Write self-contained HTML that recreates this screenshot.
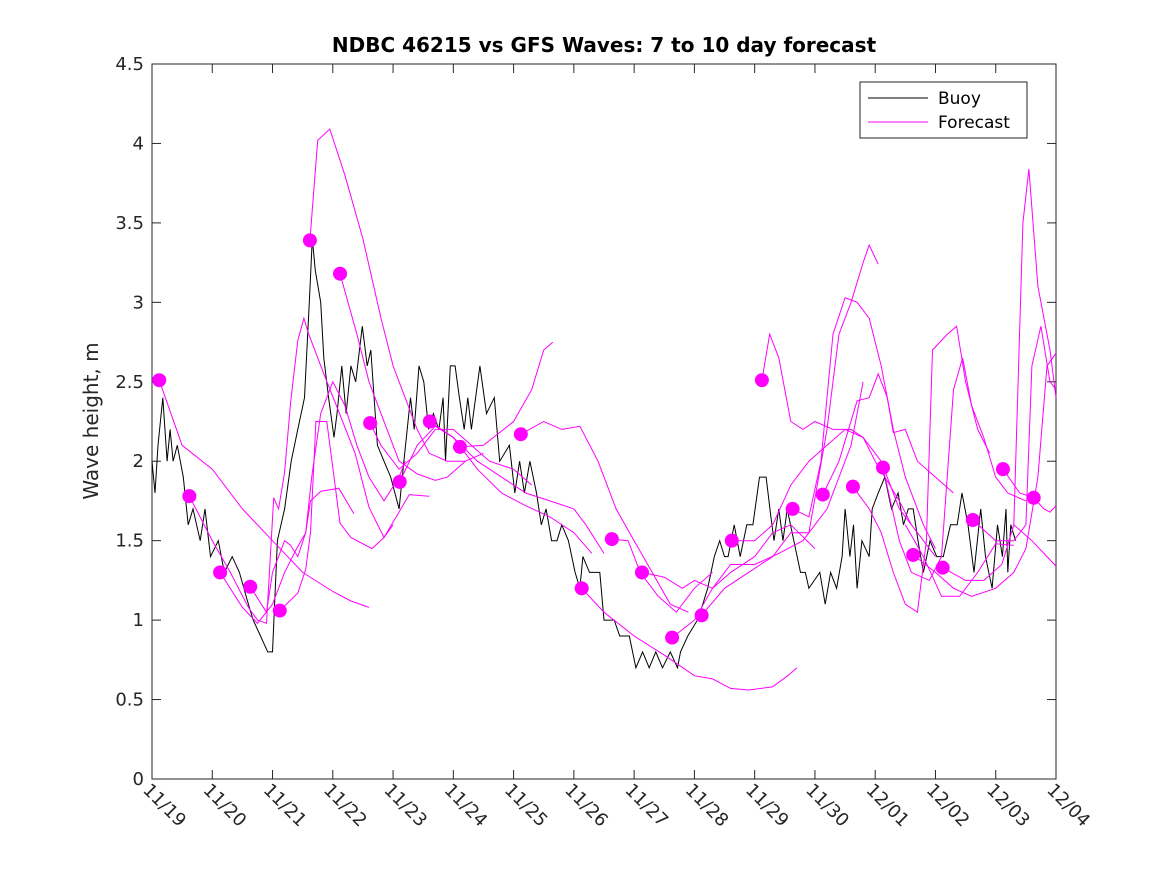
<!DOCTYPE html>
<html><head><meta charset="utf-8"><style>
body{margin:0;background:#fff}
svg{display:block;font-family:"DejaVu Sans","Liberation Sans",sans-serif}
</style></head><body>
<svg id="chart" width="1167" height="875" viewBox="0 0 1167 875">
<rect x="0" y="0" width="1167" height="875" fill="#fff"/>
<text x="604" y="52" text-anchor="middle" font-size="20" font-weight="bold" fill="#000">NDBC 46215 vs GFS Waves: 7 to 10 day forecast</text>
<text transform="translate(98,421) rotate(-90)" text-anchor="middle" font-size="20" fill="#262626">Wave height, m</text>
<g id="axes"></g>
<g id="series"></g>
<g>
<rect x="860" y="82" width="167" height="56" fill="#fff" stroke="#262626" stroke-width="1"/>
<line x1="868" y1="98" x2="928" y2="98" stroke="#000" stroke-width="1"/>
<text x="938" y="104" font-size="17" fill="#000">Buoy</text>
<line x1="868" y1="122" x2="928" y2="122" stroke="#f0f" stroke-width="1"/>
<text x="938" y="128" font-size="17" fill="#000">Forecast</text>
</g>
</svg>
<script>
const xTickLabels=["11/19","11/20","11/21","11/22","11/23","11/24","11/25","11/26","11/27","11/28","11/29","11/30","12/01","12/02","12/03","12/04"];
const yTicks=[0,0.5,1,1.5,2,2.5,3,3.5,4,4.5];
const yTickLabels=["0","0.5","1","1.5","2","2.5","3","3.5","4","4.5"];
const buoyDays=[0,0.05,0.1,0.18,0.25,0.3,0.35,0.42,0.52,0.6,0.68,0.8,0.88,0.97,1.1,1.2,1.33,1.45,1.6,1.68,1.8,1.92,2.0,2.08,2.2,2.31,2.42,2.53,2.61,2.66,2.71,2.8,2.85,2.93,3.02,3.07,3.15,3.22,3.3,3.38,3.49,3.57,3.63,3.74,3.85,3.96,4.1,4.18,4.29,4.35,4.43,4.51,4.59,4.67,4.76,4.83,4.87,4.95,5.03,5.1,5.18,5.24,5.3,5.37,5.44,5.55,5.68,5.77,5.93,6.02,6.1,6.18,6.27,6.38,6.46,6.54,6.63,6.72,6.8,6.91,7.02,7.1,7.15,7.26,7.43,7.5,7.67,7.76,7.92,8.03,8.14,8.25,8.36,8.47,8.6,8.72,8.77,8.89,9.05,9.14,9.22,9.33,9.42,9.5,9.56,9.66,9.76,9.87,9.97,10.08,10.19,10.27,10.32,10.4,10.47,10.54,10.65,10.76,10.84,10.9,11.08,11.17,11.26,11.36,11.45,11.5,11.58,11.64,11.7,11.78,11.9,11.95,12.05,12.16,12.27,12.38,12.47,12.55,12.63,12.71,12.8,12.91,13.02,13.13,13.25,13.36,13.44,13.54,13.64,13.75,13.83,13.94,14.03,14.11,14.17,14.2,14.25,14.33];
const buoyValues=[2.0,1.8,2.1,2.4,2.0,2.2,2.0,2.1,1.9,1.6,1.7,1.5,1.7,1.4,1.5,1.3,1.4,1.3,1.1,1.0,0.9,0.8,0.8,1.5,1.7,2.0,2.2,2.4,3.0,3.4,3.2,3.0,2.65,2.4,2.15,2.3,2.6,2.3,2.6,2.5,2.85,2.6,2.7,2.1,2.0,1.9,1.7,2.0,2.4,2.2,2.6,2.5,2.2,2.3,2.2,2.4,2.0,2.6,2.6,2.4,2.2,2.4,2.2,2.4,2.6,2.3,2.4,2.0,2.1,1.8,2.0,1.8,2.0,1.8,1.6,1.7,1.5,1.5,1.6,1.5,1.3,1.2,1.4,1.3,1.3,1.0,1.0,0.9,0.9,0.7,0.8,0.7,0.8,0.7,0.8,0.7,0.8,0.9,1.0,1.1,1.2,1.4,1.5,1.4,1.4,1.6,1.4,1.6,1.6,1.9,1.9,1.65,1.5,1.7,1.5,1.7,1.5,1.3,1.3,1.2,1.3,1.1,1.3,1.2,1.4,1.7,1.4,1.6,1.2,1.5,1.4,1.7,1.8,1.9,1.7,1.8,1.6,1.7,1.7,1.5,1.3,1.5,1.4,1.4,1.6,1.6,1.8,1.6,1.3,1.7,1.4,1.2,1.6,1.4,1.7,1.3,1.6,1.5];
const dotDays=[0.12,0.62,1.13,1.63,2.12,2.62,3.12,3.62,4.11,4.61,5.11,6.12,7.13,7.63,8.13,8.63,9.12,9.62,10.12,10.63,11.13,11.63,12.13,12.63,13.12,13.62,14.12,14.63];
const dotValues=[2.51,1.78,1.3,1.21,1.06,3.39,3.18,2.24,1.87,2.25,2.09,2.17,1.2,1.51,1.3,0.89,1.03,1.5,2.51,1.7,1.79,1.84,1.96,1.41,1.33,1.63,1.95,1.77];
const forecastSegments=[
[[0.12,2.51],[0.5,2.1],[1,1.95],[1.5,1.7],[2,1.5],[2.5,1.3],[3,1.18],[3.3,1.12],[3.6,1.08]],
[[0.62,1.78],[1.0,1.5],[1.3,1.3],[1.6,1.08],[1.75,1.0],[1.9,0.98],[2.02,1.77],[2.1,1.7],[2.2,1.93],[2.3,2.37],[2.42,2.76],[2.52,2.9],[2.6,2.8],[2.85,2.55],[3.07,2.34],[3.37,2.05],[3.6,1.71],[3.85,1.52],[4.0,1.6]],
[[1.13,1.3],[1.5,1.08],[1.75,0.98],[2.0,1.1],[2.2,1.3],[2.4,1.45],[2.55,1.55],[2.63,1.75],[2.8,1.81],[3.1,1.83],[3.35,1.67]],
[[1.63,1.21],[1.9,1.05],[2.0,1.3],[2.2,1.5],[2.3,1.47],[2.42,1.4],[2.55,1.55],[2.65,1.9],[2.8,2.3],[3.0,2.5],[3.2,2.35],[3.4,2.1],[3.6,1.9],[3.85,1.75],[4.1,1.9],[4.2,2.0]],
[[2.12,1.06],[2.42,1.17],[2.55,1.32],[2.63,1.55],[2.72,2.25],[2.9,2.25],[3.12,1.61],[3.3,1.52],[3.65,1.45],[3.85,1.52],[4.27,1.79],[4.6,1.78]],
[[2.62,3.39],[2.75,4.02],[2.95,4.09],[3.2,3.8],[3.5,3.4],[3.8,2.9],[4.0,2.6],[4.2,2.4],[4.4,2.2],[4.6,2.05],[4.9,2.0],[5.2,2.0]],
[[3.12,3.18],[3.4,2.8],[3.6,2.5],[3.8,2.3],[4.1,2.0],[4.4,1.92],[4.7,1.88],[4.9,1.9],[5.2,2.0],[5.5,2.05]],
[[3.62,2.24],[3.8,2.1],[4.1,1.95],[4.4,2.05],[4.7,2.2],[5.0,2.2],[5.3,2.1],[5.6,2.0],[6.0,1.95],[6.3,1.85]],
[[4.11,1.87],[4.4,2.1],[4.7,2.22],[5.0,2.15],[5.4,2.0],[5.8,1.9],[6.2,1.8],[6.6,1.75],[7.0,1.7],[7.2,1.6],[7.5,1.42]],
[[4.61,2.25],[5.0,2.15],[5.4,1.95],[5.8,1.8],[6.2,1.72],[6.6,1.65],[7.0,1.55],[7.3,1.42]],
[[5.11,2.09],[5.5,2.1],[6.0,2.25],[6.3,2.45],[6.5,2.7],[6.65,2.75]],
[[6.12,2.17],[6.5,2.25],[6.8,2.2],[7.1,2.22],[7.4,2.0],[7.7,1.7],[8.0,1.5],[8.3,1.3],[8.6,1.1],[8.9,1.05]],
[[7.13,1.2],[7.5,1.05],[8.0,0.9],[8.5,0.78],[9.0,0.65],[9.3,0.63],[9.6,0.57],[9.9,0.56],[10.3,0.58],[10.55,0.65],[10.7,0.7]],
[[7.63,1.51],[7.9,1.5],[8.1,1.3],[8.4,1.15],[8.7,1.05],[9.0,1.2],[9.3,1.3]],
[[8.13,1.3],[8.5,1.27],[8.8,1.2],[9.0,1.25],[9.3,1.2],[9.6,1.3],[10.0,1.4],[10.3,1.55],[10.6,1.6],[11.0,1.45]],
[[8.63,0.89],[9.0,1.0],[9.3,1.2],[9.6,1.35],[10.0,1.35],[10.4,1.42],[10.8,1.5],[11.2,1.7],[11.6,2.1],[11.8,2.5]],
[[9.12,1.03],[9.5,1.2],[9.9,1.3],[10.3,1.4],[10.6,1.55],[10.9,1.55],[11.2,2.2],[11.4,2.8],[11.6,3.0],[11.8,3.25],[11.9,3.36],[12.05,3.24]],
[[9.62,1.5],[10.0,1.5],[10.3,1.6],[10.6,1.85],[10.9,2.0],[11.2,2.1],[11.5,2.2],[11.8,2.15],[12.0,2.0],[12.4,1.75],[12.6,1.6]],
[[10.12,2.51],[10.25,2.8],[10.4,2.65],[10.6,2.25],[10.8,2.2],[11.0,2.25],[11.3,2.2],[11.6,2.2],[11.8,2.15],[12.1,2.0],[12.4,1.7],[12.7,1.55],[13.0,1.4]],
[[10.63,1.7],[10.9,1.65],[11.1,2.0],[11.3,2.8],[11.5,3.03],[11.7,3.0],[11.9,2.9],[12.1,2.6],[12.3,2.2],[12.5,1.9],[12.8,1.6],[13.0,1.45]],
[[11.13,1.79],[11.4,2.0],[11.7,2.38],[11.9,2.4],[12.05,2.55],[12.2,2.4],[12.3,2.18],[12.5,2.2],[12.7,2.0],[13.0,1.9],[13.3,1.8]],
[[11.63,1.84],[11.9,1.7],[12.1,1.55],[12.3,1.3],[12.5,1.1],[12.7,1.05],[12.85,1.5],[12.95,2.7],[13.2,2.8],[13.35,2.85],[13.5,2.5],[13.7,2.2],[13.9,2.05]],
[[12.13,1.96],[12.4,1.5],[12.6,1.3],[12.9,1.25],[13.1,1.4],[13.3,2.45],[13.45,2.65],[13.6,2.35],[13.8,2.15],[14.0,1.9],[14.2,1.8],[14.5,1.75]],
[[12.63,1.41],[13.0,1.3],[13.3,1.2],[13.6,1.15],[14.0,1.2],[14.3,1.3],[14.5,1.45],[14.7,1.9],[14.85,2.6],[15.0,2.68]],
[[13.12,1.33],[13.5,1.25],[13.8,1.25],[14.1,1.35],[14.3,1.6],[14.45,3.5],[14.55,3.84],[14.7,3.1],[14.9,2.7],[15.0,2.4]],
[[13.62,1.63],[14.0,1.5],[14.3,1.5],[14.5,1.6],[14.6,2.6],[14.75,2.85],[14.9,2.5],[15.0,2.45]],
[[14.12,1.95],[14.4,1.8],[14.63,1.77],[14.8,1.7],[14.9,1.68],[15,1.72]],
[[12.5,1.6],[12.8,1.4],[13.1,1.15],[13.4,1.15],[13.7,1.3],[14.0,1.48],[14.3,1.47]],
[[14.3,1.6],[14.6,1.5],[14.8,1.42],[15.0,1.34]]
];
const X0=152,X1=1056,Y0=779,Y1=64,XMAX=15,YMAX=4.5;
function xs(d){return X0+(X1-X0)*d/XMAX;}
function ys(v){return Y0-(Y0-Y1)*v/YMAX;}
const NS="http://www.w3.org/2000/svg";
const axes=document.getElementById('axes'),series=document.getElementById('series');
function mk(tag,attrs,parent){const e=document.createElementNS(NS,tag);for(const k in attrs)e.setAttribute(k,attrs[k]);parent.appendChild(e);return e;}
yTicks.forEach((v,i)=>{
  const y=ys(v);
  const t1=mk('line',{x1:X0,x2:X0+9,y1:y,y2:y,stroke:'#262626'},axes);
  
  
  const t2=mk('line',{x1:X1,x2:X1-9,y1:y,y2:y,stroke:'#262626'},axes);
  
  
  const tx=mk('text',{x:X0-8,y:y+6,'text-anchor':'end','font-size':'18',fill:'#262626'},axes);
  tx.textContent=yTickLabels[i];
  
  
});
xTickLabels.forEach((lab,i)=>{
  const x=xs(i);
  const t1=mk('line',{x1:x,x2:x,y1:Y0,y2:Y0-9,stroke:'#262626'},axes);
  
  
  const t2=mk('line',{x1:x,x2:x,y1:Y1,y2:Y1+9,stroke:'#262626'},axes);
  
  
  const tx=mk('text',{transform:`translate(${x-10},${Y0+12}) rotate(45)`,'font-size':'18',fill:'#262626'},axes);
  tx.textContent=lab;
  
  
});
const box=mk('rect',{x:X0,y:Y1,width:X1-X0,height:Y0-Y1,fill:'none',stroke:'#262626','stroke-width':1},axes);


const bp=buoyDays.map((d,i)=>xs(d).toFixed(1)+','+ys(buoyValues[i]).toFixed(1)).join(' ');
const buoy=mk('polyline',{points:bp,fill:'none',stroke:'#000','stroke-width':1},series);


forecastSegments.forEach(seg=>{
  const p=seg.map(q=>xs(q[0]).toFixed(1)+','+ys(q[1]).toFixed(1)).join(' ');
  const l=mk('polyline',{points:p,fill:'none',stroke:'#f0f','stroke-width':1},series);
  
  
});
dotDays.forEach((d,i)=>{
  const c=mk('circle',{cx:xs(d),cy:ys(dotValues[i]),r:7,fill:'#f0f'},series);
  
  
});
</script>
</body></html>
